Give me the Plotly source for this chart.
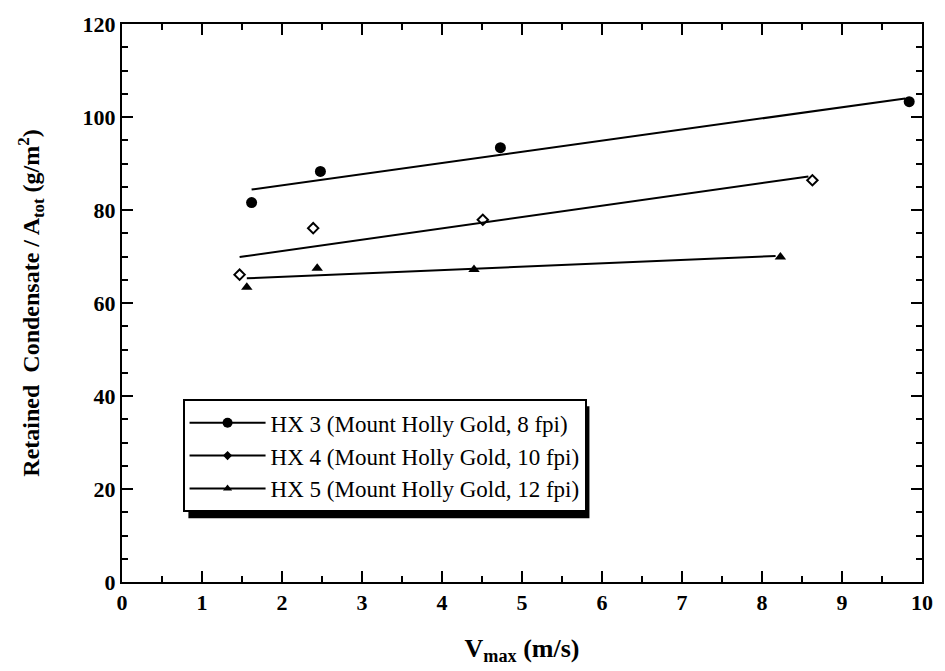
import plotly.graph_objects as go

# ---- data ----
hx3_x = [1.62, 2.48, 4.73, 9.84]
hx3_y = [81.6, 88.3, 93.4, 103.3]
hx4_x = [1.47, 2.39, 4.51, 8.63]
hx4_y = [66.1, 76.1, 77.9, 86.4]
hx5_x = [1.56, 2.44, 4.40, 8.23]
hx5_y = [63.4, 67.5, 67.2, 69.9]

# linear fit lines (end points)
fit3_x = [1.62, 9.79]
fit3_y = [84.4, 104.0]
fit4_x = [1.47, 8.58]
fit4_y = [69.9, 87.2]
fit5_x = [1.56, 8.17]
fit5_y = [65.3, 70.1]

names = ["HX 3 (Mount Holly Gold, 8 fpi)",
         "HX 4 (Mount Holly Gold, 10 fpi)",
         "HX 5 (Mount Holly Gold, 12 fpi)"]

x_ticks = list(range(0, 11))
y_ticks = list(range(0, 121, 20))

SERIF = "Liberation Serif"

fig = go.Figure()

series = [
    (hx3_x, hx3_y, fit3_x, fit3_y, dict(symbol="circle", size=11, color="black"),
     dict(symbol="circle", size=10, color="black")),
    (hx4_x, hx4_y, fit4_x, fit4_y,
     dict(symbol="diamond-open", size=8, color="black", line=dict(width=2, color="black")),
     dict(symbol="diamond", size=7, color="black")),
    (hx5_x, hx5_y, fit5_x, fit5_y, dict(symbol="triangle-up", size=10, color="black"),
     dict(symbol="triangle-up", size=8, color="black")),
]

for (px, py, fx, fy, mk, lmk), nm in zip(series, names):
    fig.add_trace(go.Scatter(x=fx, y=fy, mode="lines", line=dict(color="black", width=2),
                             showlegend=False, hoverinfo="skip"))
    fig.add_trace(go.Scatter(x=px, y=py, mode="markers", marker=mk, showlegend=False))
    fig.add_trace(go.Scatter(x=[None], y=[None], mode="lines+markers", name=nm,
                             line=dict(color="black", width=2), marker=lmk))

axis_common = dict(
    showline=True, linecolor="black", linewidth=2, mirror="allticks",
    ticks="inside", ticklen=11, tickwidth=2, tickcolor="black",
    showgrid=False, zeroline=False,
    tickfont=dict(family=SERIF, size=22, color="black", weight="bold"),
)

fig.update_xaxes(
    range=[0, 10], tickvals=x_ticks, ticktext=[str(v) for v in x_ticks],
    minor=dict(dtick=0.5, ticks="inside", ticklen=6, tickwidth=2, tickcolor="black", showgrid=False),
    title=dict(text="<b>V<sub>max</sub> (m/s)</b>", font=dict(family=SERIF, size=26, color="black"),
               standoff=24),
    **axis_common,
)
fig.update_yaxes(
    range=[0, 120], tickvals=y_ticks, ticktext=[str(v) for v in y_ticks],
    minor=dict(dtick=5, ticks="inside", ticklen=6, tickwidth=2, tickcolor="black", showgrid=False),
    title=dict(text="<b>Retained  Condensate / A<sub>tot</sub> (g/m<sup>2</sup>)</b>",
               font=dict(family=SERIF, size=24, color="black"), standoff=36),
    **axis_common,
)

# legend drop shadow (offset box behind the legend)
fig.add_shape(type="rect", xref="paper", yref="paper",
              x0=0.0830, x1=0.5843, y0=0.1144, y1=0.3151,
              fillcolor="black", line=dict(width=0), layer="above")

fig.update_layout(
    width=945, height=671,
    margin=dict(l=122, r=17, t=14, b=89),
    paper_bgcolor="white", plot_bgcolor="white",
    font=dict(family=SERIF, color="black"),
    legend=dict(x=0.0757, y=0.3275, xanchor="left", yanchor="top",
                bgcolor="white", bordercolor="black", borderwidth=2,
                font=dict(family=SERIF, size=23, color="black"),
                itemwidth=76, tracegroupgap=0),
)

fig.write_html("out.html")
